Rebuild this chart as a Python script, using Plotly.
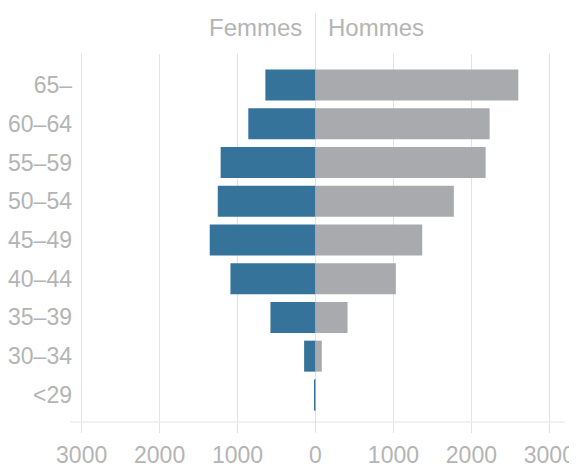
import plotly.graph_objects as go

age_groups = ["<29", "30–34", "35–39", "40–44", "45–49", "50–54", "55–59", "60–64", "65–"]
femmes = [8, 146, 578, 1091, 1357, 1254, 1217, 862, 643]
hommes = [4, 81, 411, 1031, 1369, 1775, 2183, 2234, 2602]
x_tickvals = [-3000, -2000, -1000, 0, 1000, 2000, 3000]
x_ticktext = ["3000", "2000", "1000", "0", "1000", "2000", "3000"]

BLUE = "#35739a"
GREY = "#a8aaad"
TEXT = "#b4b4b4"
GRID = "#e2e2e2"
FONT = "Liberation Sans, Arial, sans-serif"

fig = go.Figure()
fig.add_trace(go.Bar(
    y=age_groups, x=[-v for v in femmes], orientation="h",
    marker=dict(color=BLUE, line=dict(width=0)), name="Femmes",
    customdata=femmes, hovertemplate="Femmes %{y}: %{customdata}<extra></extra>",
))
fig.add_trace(go.Bar(
    y=age_groups, x=hommes, orientation="h",
    marker=dict(color=GREY, line=dict(width=0)), name="Hommes",
    hovertemplate="Hommes %{y}: %{x}<extra></extra>",
))

# the page body adds an 8px offset, so the figure is 8px smaller than the window
fig.update_layout(
    width=569, height=459,
    margin=dict(l=70, r=12, t=46, b=45, autoexpand=False),
    barmode="relative", bargap=0.2,
    showlegend=False,
    plot_bgcolor="white", paper_bgcolor="white",
    font=dict(family=FONT, size=23, color=TEXT),
    xaxis=dict(
        range=[-3047, 3201], tickvals=x_tickvals, ticktext=x_ticktext,
        showgrid=True, gridcolor=GRID, gridwidth=1, zeroline=False,
        ticks="outside", ticklen=10, tickcolor=GRID, tickwidth=1,
        showline=False, tickfont=dict(size=23, color=TEXT),
        fixedrange=True, automargin=False, ticklabelstandoff=2,
    ),
    yaxis=dict(
        type="category", categoryorder="array", categoryarray=age_groups,
        range=[-0.7, 8.8], showgrid=False, zeroline=False, showline=False,
        ticks="", tickfont=dict(size=23, color=TEXT), fixedrange=True,
        automargin=False, ticklabelstandoff=5,
    ),
    shapes=[
        dict(type="line", xref="paper", yref="paper", x0=-0.0164, x1=1.0, y0=0, y1=0,
             line=dict(color=GRID, width=1), layer="below"),
        dict(type="line", xref="x", yref="paper", x0=0, x1=0, y0=-0.027, y1=1.111,
             line=dict(color=GRID, width=1), layer="below"),
    ],
    annotations=[
        dict(text="Femmes", x=0, xref="x", y=1.073, yref="paper", xanchor="right",
             yanchor="middle", xshift=-12, showarrow=False,
             font=dict(size=24, color=TEXT, family=FONT)),
        dict(text="Hommes", x=0, xref="x", y=1.073, yref="paper", xanchor="left",
             yanchor="middle", xshift=10, showarrow=False,
             font=dict(size=24, color=TEXT, family=FONT)),
    ],
)

fig.write_html("out.html")
